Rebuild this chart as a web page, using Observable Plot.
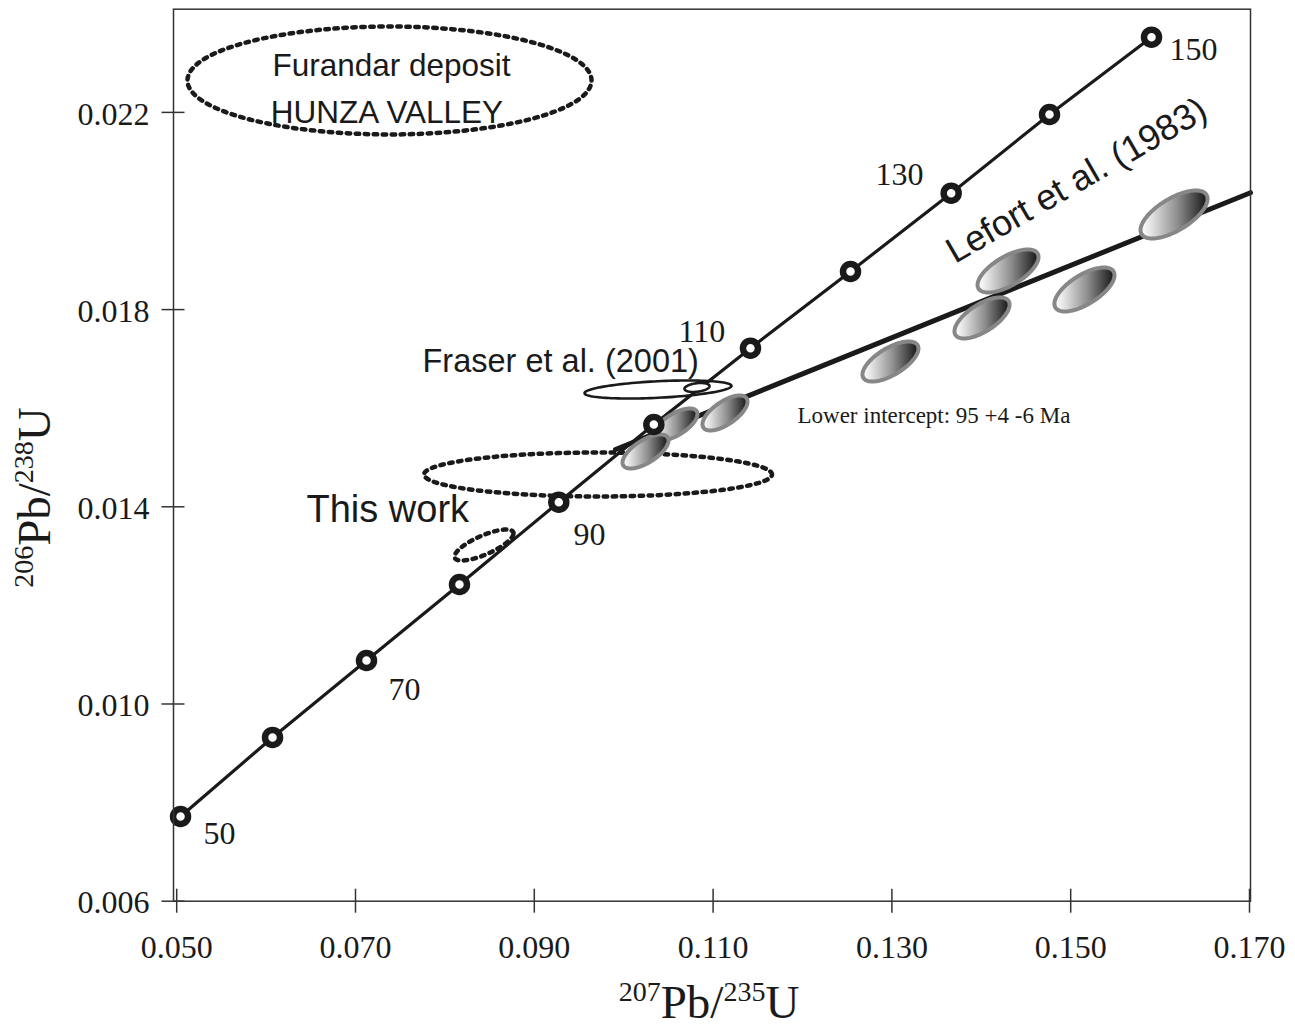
<!DOCTYPE html>
<html><head><meta charset="utf-8">
<script src="https://cdn.jsdelivr.net/npm/d3@7"></script>
<script src="https://cdn.jsdelivr.net/npm/@observablehq/plot@0.6"></script>
<style>body{margin:0;background:#fff} svg{display:block}</style>
</head><body><div id="chart"></div>
<script>
// ---- Data ----
// Concordia curve (age in Ma)
const ages  = [50, 60, 70, 80, 90, 100, 110, 120, 130, 140, 150];
const concX = [0.05043, 0.06072, 0.07123, 0.08163, 0.09274, 0.10337, 0.11418, 0.12537, 0.13663, 0.14763, 0.15904];
const concY = [0.007718, 0.009321, 0.010882, 0.012424, 0.014093, 0.015669, 0.017217, 0.018773, 0.020361, 0.021957, 0.023525];

// Age labels shown next to concordia points
const ageLabelText = ["50", "70", "90", "110", "130", "150"];
const ageLabelX = [0.05300, 0.07369, 0.09439, 0.10613, 0.12817, 0.16105];
const ageLabelY = [0.00717, 0.010091, 0.013215, 0.017333, 0.020537, 0.023053];

// Lefort et al. (1983) discordia line
const discX = [0.09908, 0.17011];
const discY = [0.015162, 0.020371];

// Lefort et al. (1983) error ellipses: centre, half-widths, correlation
const lefortX   = [0.10579, 0.10244, 0.11133, 0.12984, 0.14299, 0.14008, 0.15154, 0.16156];
const lefortY   = [0.015669, 0.015122, 0.015903, 0.016947, 0.018783, 0.017830, 0.018408, 0.019929];
const lefortSX  = [0.00246, 0.00257, 0.00252, 0.00313, 0.00341, 0.00308, 0.00336, 0.00375];
const lefortSY  = [0.000325, 0.000345, 0.000355, 0.000406, 0.000436, 0.000416, 0.000446, 0.000487];
const lefortRho = [0.65, 0.65, 0.65, 0.65, 0.65, 0.65, 0.65, 0.65];

// Fraser et al. (2001) ellipses
const fraserX = [0.103837, 0.1082];
const fraserY = [0.016379, 0.01642];
const fraserSX = [0.00822, 0.0014];
const fraserSY = [0.000183, 0.0000913];
const fraserRho = [0.4, 0.3];

// This work (dotted) ellipses
const workX = [0.097125, 0.084374];
const workY = [0.014655, 0.013225];
const workSX = [0.019463, 0.0033];
const workSY = [0.000446, 0.000314];
const workRho = [0.0, 0.75];

// Furandar deposit frame ellipse
const hunzaX = [0.073803], hunzaY = [0.022647], hunzaSX = [0.0226], hunzaSY = [0.001095], hunzaRho = [0];

// Tick values
const xTicks = [0.050, 0.070, 0.090, 0.110, 0.130, 0.150, 0.170];
const yTicks = [0.006, 0.010, 0.014, 0.018, 0.022];

// Annotations (data coordinates)
const noteFurandar = [{text: "Furandar deposit", x: 0.074027, y: 0.022748}];
const noteHunza    = [{text: "HUNZA VALLEY", x: 0.073523, y: 0.021775}];
const noteFraser   = [{text: "Fraser et al. (2001)", x: 0.077494, y: 0.016724}];
const noteWork     = [{text: "This work", x: 0.064519, y: 0.013682}];
const noteLefort   = [{text: "Lefort et al. (1983)", x: 0.150649, y: 0.020619}];
const noteIntercept= [{text: "Lower intercept: 95 +4 -6 Ma", x: 0.119441, y: 0.015690}];

// ---- Build tables ----
const concordia = ages.map((a, i) => ({age: a, x: concX[i], y: concY[i]}));
const ageLabels = ageLabelText.map((t, i) => ({text: t, x: ageLabelX[i], y: ageLabelY[i]}));
const discordia = discX.map((x, i) => ({x, y: discY[i]}));

function ellipses(prefix, X, Y, SX, SY, R, n = 120) {
  const out = [];
  X.forEach((cx, j) => {
    const k = Math.sqrt(1 - R[j] * R[j]);
    for (let i = 0; i <= n; i++) {
      const t = 2 * Math.PI * i / n;
      out.push({id: prefix + j, x: cx + SX[j] * Math.cos(t), y: Y[j] + SY[j] * (R[j] * Math.cos(t) + k * Math.sin(t))});
    }
  });
  return out;
}
const lefortPts = ellipses("L", lefortX, lefortY, lefortSX, lefortSY, lefortRho);
const fraserBig = ellipses("FB", [fraserX[0]], [fraserY[0]], [fraserSX[0]], [fraserSY[0]], [fraserRho[0]]);
const fraserSmall = ellipses("FS", [fraserX[1]], [fraserY[1]], [fraserSX[1]], [fraserSY[1]], [fraserRho[1]]);
const workPts = ellipses("W", workX, workY, workSX, workSY, workRho, 160);
const hunzaPts = ellipses("H", hunzaX, hunzaY, hunzaSX, hunzaSY, hunzaRho, 200);

const ink = "#1a1a1a";
const serif = "Liberation Serif";
const sans = "Liberation Sans";

const chart = Plot.plot({
  width: 1295, height: 1030,
  marginLeft: 173, marginRight: 45, marginTop: 8.7, marginBottom: 129.3,
  x: {domain: [0.049642, 0.170112]},
  y: {domain: [0.006, 0.024093]},
  style: {background: "white", color: ink},
  marks: [
    // dotted ellipses
    Plot.line(hunzaPts, {x: "x", y: "y", z: "id", stroke: ink, strokeWidth: 4.5, strokeDasharray: "3.5 5.5"}),
    Plot.line(workPts, {x: "x", y: "y", z: "id", stroke: ink, strokeWidth: 4.5, strokeDasharray: "3.5 5.5"}),
    // concordia and discordia
    Plot.line(concordia, {x: "x", y: "y", stroke: ink, strokeWidth: 3.2}),
    Plot.line(discordia, {x: "x", y: "y", stroke: ink, strokeWidth: 5}),
    // Fraser ellipses
    Plot.line(fraserBig, {x: "x", y: "y", z: "id", stroke: ink, strokeWidth: 2.6}),
    Plot.line(fraserSmall, {x: "x", y: "y", z: "id", stroke: ink, fill: "white", strokeWidth: 2.6}),
    // Lefort ellipses
    Plot.line(lefortPts, {x: "x", y: "y", z: "id", stroke: "#878787", strokeWidth: 4, fill: "url(#lefortGrad)"}),
    // concordia age points
    Plot.dot(concordia, {x: "x", y: "y", r: 7.5, fill: "white", stroke: ink, strokeWidth: 6.5}),
    // frame
    Plot.frame({stroke: "#333", strokeWidth: 1.5}),
    // axes: ticks crossing the frame
    Plot.axisX(xTicks, {anchor: "bottom", tickSize: 24, dy: -12, tickFormat: () => "", stroke: "#333", strokeWidth: 1.5, label: null}),
    Plot.axisX(xTicks, {anchor: "bottom", tickSize: 0, tickPadding: 33.6, tickFormat: d3.format(".3f"), fontSize: 32, fontFamily: serif, fill: ink, label: null}),
    Plot.axisY(yTicks, {anchor: "left", tickSize: 23, dx: 11.5, tickFormat: () => "", stroke: "#333", strokeWidth: 1.5, label: null}),
    Plot.axisY(yTicks, {anchor: "left", tickSize: 0, tickPadding: 24, dy: 2, tickFormat: d3.format(".3f"), fontSize: 32, fontFamily: serif, fill: ink, label: null}),
    // labels
    Plot.text(ageLabels, {x: "x", y: "y", text: "text", textAnchor: "start", lineAnchor: "bottom", fontSize: 32, fontFamily: serif, fill: ink}),
    Plot.text(noteFurandar, {x: "x", y: "y", text: "text", textAnchor: "middle", lineAnchor: "bottom", fontSize: 31.5, fontFamily: sans, fill: ink}),
    Plot.text(noteHunza, {x: "x", y: "y", text: "text", textAnchor: "middle", lineAnchor: "bottom", fontSize: 31.5, fontFamily: sans, fill: ink}),
    Plot.text(noteFraser, {x: "x", y: "y", text: "text", textAnchor: "start", lineAnchor: "bottom", fontSize: 32.5, fontFamily: sans, fill: ink}),
    Plot.text(noteWork, {x: "x", y: "y", text: "text", textAnchor: "start", lineAnchor: "bottom", fontSize: 38, fontFamily: sans, fill: ink}),
    Plot.text(noteLefort, {x: "x", y: "y", text: "text", textAnchor: "middle", lineAnchor: "middle", rotate: -30, fontSize: 36, fontFamily: sans, fill: ink}),
    Plot.text(noteIntercept, {x: "x", y: "y", text: "text", textAnchor: "start", lineAnchor: "bottom", fontSize: 23, fontFamily: serif, fill: ink})
  ]
});

// gradient definition for the shaded ellipses
const svg = d3.select(chart);
const defs = svg.insert("defs", ":first-child");
const g = defs.append("linearGradient").attr("id", "lefortGrad").attr("x1", 0).attr("y1", 0).attr("x2", 1).attr("y2", 0);
g.append("stop").attr("offset", "0%").attr("stop-color", "#ffffff");
g.append("stop").attr("offset", "15%").attr("stop-color", "#e6e6e6");
g.append("stop").attr("offset", "55%").attr("stop-color", "#8e8e8e");
g.append("stop").attr("offset", "100%").attr("stop-color", "#141414");

// axis titles with superscripts
function title(sel, a, b, c, d) {
  sel.append("tspan").attr("font-size", 28).attr("dy", -17).text(a);
  sel.append("tspan").attr("font-size", 47).attr("dy", 17).text(b);
  sel.append("tspan").attr("font-size", 28).attr("dy", -17).text(c);
  sel.append("tspan").attr("font-size", 47).attr("dy", 17).text(d);
}
const xt = svg.append("text").attr("x", 709).attr("y", 1018).attr("text-anchor", "middle")
  .attr("font-family", serif).attr("font-size", 47).attr("fill", ink);
title(xt, "207", "Pb/", "235", "U");
const yt = svg.append("text").attr("transform", "translate(50,497.5) rotate(-90)").attr("text-anchor", "middle")
  .attr("font-family", serif).attr("font-size", 47).attr("fill", ink);
title(yt, "206", "Pb/", "238", "U");

document.getElementById("chart").appendChild(chart);
</script>
</body></html>
